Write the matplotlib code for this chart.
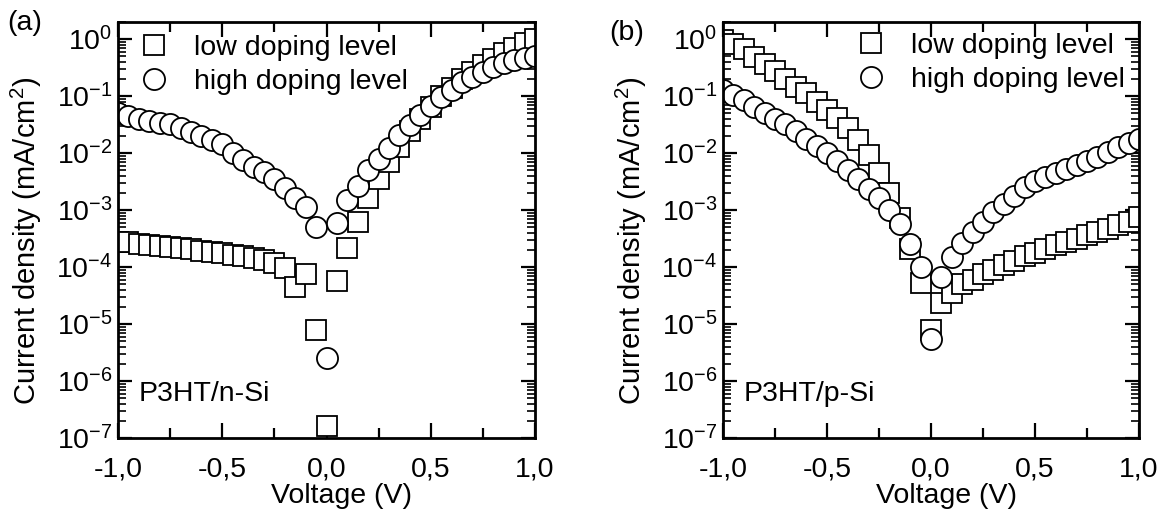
import numpy as np
import matplotlib
matplotlib.use("Agg")
import matplotlib.pyplot as plt
from matplotlib.ticker import LogLocator, NullFormatter, FixedLocator

plt.rcParams['font.family'] = ['Liberation Sans', 'DejaVu Sans']
plt.rcParams['mathtext.fontset'] = 'custom'
plt.rcParams['mathtext.rm'] = 'Liberation Sans'
plt.rcParams['mathtext.it'] = 'Liberation Sans:italic'
plt.rcParams['mathtext.bf'] = 'Liberation Sans:bold'
plt.rcParams['axes.unicode_minus'] = False

# bias voltage sweep (V)
voltage = np.round(np.arange(-1.0, 1.0001, 0.05), 2)

# P3HT/n-Si, current density (mA/cm^2)
nsi_low = [2.8e-4, 2.7e-4, 2.55e-4, 2.45e-4, 2.35e-4, 2.25e-4, 2.15e-4, 2.05e-4,
           1.95e-4, 1.85e-4, 1.75e-4, 1.65e-4, 1.55e-4, 1.45e-4, 1.35e-4, 1.2e-4,
           9.5e-5, 4.5e-5, 7.5e-5, 8.0e-6, 1.6e-7, 5.8e-5, 2.2e-4, 6.2e-4,
           1.6e-3, 3.5e-3, 7.0e-3, 1.3e-2, 2.4e-2, 4.0e-2, 6.5e-2, 0.10,
           0.14, 0.20, 0.27, 0.35, 0.45, 0.57, 0.70, 0.85, 1.0]
nsi_high = [5.0e-2, 4.4e-2, 4.0e-2, 3.6e-2, 3.4e-2, 3.2e-2, 2.8e-2, 2.3e-2,
            2.0e-2, 1.7e-2, 1.45e-2, 1.0e-2, 7.6e-3, 5.8e-3, 4.6e-3, 3.5e-3,
            2.4e-3, 1.66e-3, 1.12e-3, 5.0e-4, 2.5e-6, 6.0e-4, 1.5e-3, 2.7e-3,
            5.0e-3, 8.0e-3, 1.25e-2, 2.1e-2, 3.1e-2, 4.7e-2, 6.6e-2, 9.5e-2,
            0.13, 0.18, 0.22, 0.27, 0.32, 0.38, 0.43, 0.47, 0.50]

# P3HT/p-Si, current density (mA/cm^2)
psi_low = [0.95, 0.83, 0.66, 0.48, 0.36, 0.275, 0.20, 0.145, 0.112, 0.078,
           0.056, 0.041, 2.75e-2, 1.7e-2, 9.1e-3, 4.5e-3, 2.0e-3, 7.2e-4,
           2.1e-4, 5.2e-5, 8.0e-6, 2.3e-5, 3.5e-5, 5.0e-5, 5.9e-5, 7.7e-5,
           8.9e-5, 1.1e-4, 1.3e-4, 1.55e-4, 1.8e-4, 2.1e-4, 2.4e-4, 2.75e-4,
           3.15e-4, 3.6e-4, 4.1e-4, 4.7e-4, 5.4e-4, 6.3e-4, 7.5e-4]
psi_high = [0.126, 0.105, 0.085, 0.065, 0.050, 0.040, 0.032, 0.0245, 0.018,
            0.0135, 0.0102, 7.2e-3, 5.1e-3, 3.5e-3, 2.3e-3, 1.6e-3, 1.0e-3,
            5.6e-4, 2.5e-4, 1.0e-4, 5.5e-6, 6.6e-5, 1.5e-4, 2.6e-4, 4.1e-4,
            6.2e-4, 9.2e-4, 1.3e-3, 1.8e-3, 2.5e-3, 3.2e-3, 3.8e-3, 4.5e-3,
            5.2e-3, 6.2e-3, 7.4e-3, 8.7e-3, 1.05e-2, 1.26e-2, 1.5e-2, 1.8e-2]

series_labels = ['low doping level', 'high doping level']
xtick_values = [-1.0, -0.5, 0.0, 0.5, 1.0]
xtick_labels = ['-1,0', '-0,5', '0,0', '0,5', '1,0']
panel_tags = ['(a)', '(b)']
device_names = ['P3HT/n-Si', 'P3HT/p-Si']

FS = 20.5
fig = plt.figure(figsize=(11.62, 5.11), dpi=100)
W, H = 1162, 511
ax_a = fig.add_axes([118 / W, 1 - 438 / H, 417 / W, 416 / H])
ax_b = fig.add_axes([723 / W, 1 - 438 / H, 416 / W, 416 / H])

panels = [
    (ax_a, nsi_low, nsi_high, panel_tags[0], device_names[0]),
    (ax_b, psi_low, psi_high, panel_tags[1], device_names[1]),
]

for ax, low, high, tag, dev in panels:
    ax.set_yscale('log')
    h1, = ax.plot(voltage, low, ls='none', marker='s', ms=13.8, mfc='white',
                  mec='black', mew=1.3, label=series_labels[0])
    h2, = ax.plot(voltage, high, ls='none', marker='o', ms=15.2, mfc='white',
                  mec='black', mew=1.3, label=series_labels[1])
    ax.set_xlim(-1.0, 0.99)
    ax.set_ylim(1e-7, 2.0)

    ax.set_xticks(xtick_values)
    ax.set_xticklabels(xtick_labels)
    ax.xaxis.set_minor_locator(FixedLocator([-0.75, -0.25, 0.25, 0.75]))
    ax.yaxis.set_major_locator(LogLocator(base=10, numticks=20))
    ax.yaxis.set_minor_locator(LogLocator(base=10, subs=np.arange(2, 10), numticks=100))
    ax.yaxis.set_minor_formatter(NullFormatter())

    ax.tick_params(which='both', direction='in', top=True, right=True,
                   labelsize=FS, width=1.6)
    ax.tick_params(axis='x', which='major', length=11, pad=13)
    ax.tick_params(axis='x', which='minor', length=7)
    ax.tick_params(axis='y', which='major', length=10, pad=4)
    ax.tick_params(axis='y', which='minor', length=6, width=1.2)
    for sp in ax.spines.values():
        sp.set_linewidth(2.0)

    ax.set_xlabel('Voltage (V)', fontsize=FS, labelpad=1)
    ax.xaxis.label.set_x(0.537)
    ax.set_ylabel('Current density (mA/cm$^2$)', fontsize=21, labelpad=9)
    ax.yaxis.label.set_y(0.475)

    ax.text(0.05, 0.105, dev, transform=ax.transAxes, fontsize=FS,
            ha='left', va='center')

legend_style = dict(loc='upper left', frameon=False, fontsize=FS,
                    handlelength=1.0, handletextpad=0.9, labelspacing=0.28,
                    borderpad=0.25, borderaxespad=0)
ax_a.legend(handles=[h1, h2], bbox_to_anchor=(0.035, 0.985), **legend_style)
ax_b.legend(handles=[h1, h2], bbox_to_anchor=(0.305, 0.99), **legend_style)

fig.text(25 / W, 1 - 23 / H, panel_tags[0], fontsize=FS, ha='center', va='center')
fig.text(627 / W, 1 - 33 / H, panel_tags[1], fontsize=FS, ha='center', va='center')

fig.savefig('out.png', dpi=100)
